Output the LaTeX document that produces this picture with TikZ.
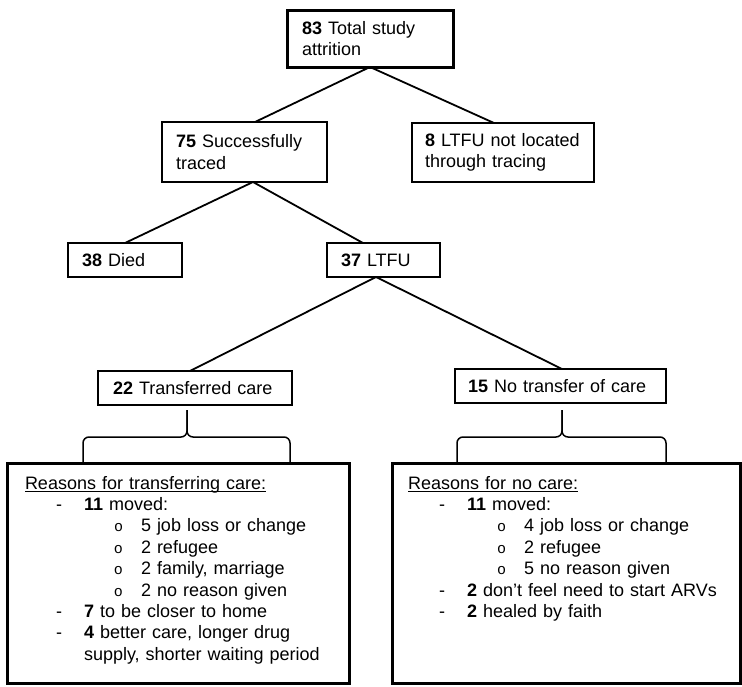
\documentclass[tikz,border=0pt]{standalone}
\usepackage{fontspec}
\setmainfont{Liberation Sans}
\newfontfamily\bulletfont{Liberation Mono}
\tikzset{box/.style={draw, line width=1.4pt, anchor=north west, align=left,
                     inner ysep=0pt, outer sep=0pt,
                     font=\fontsize{18pt}{21.4pt}\selectfont},
        bigbox/.style={box, line width=3pt, inner ysep=13pt,
                       text height=13pt, text depth=181pt},
        link/.style={line width=1.8pt},
        curly/.style={line width=1.5pt, rounded corners=6pt},
        }
\newcommand{\underhead}[1]{\setbox0=\hbox{#1}\rlap{\rule[-2.5pt]{\wd0}{1pt}}\box0}
\newcommand{\firstlevel}[1]{\hspace*{31pt}\makebox[28pt][l]{-}#1}
\newcommand{\secondlevel}[1]{\hspace*{89pt}\makebox[27pt][l]{\bulletfont\fontsize{15pt}{15pt}\selectfont o}#1}
\newcommand{\drawbrace}[3]{%
    \draw[curly] (#1,463) -- (#1,437) -- (#2,437) -- (#2,410);
    \draw[curly] (#3,463) -- (#3,437) -- (#2,437) -- (#2,410);}

\begin{document}
\begin{tikzpicture}[x=1pt, y=-1pt]
    \useasboundingbox (0,0) rectangle (742,686);

    \node[box, line width=3pt, inner xsep=15pt, text width=136pt, minimum height=57pt]
        (total) at (287,10) {\textbf{83} Total study attrition};

    \node[box, inner xsep=14pt, text width=137pt, minimum height=60pt]
        (traced) at (162,122) {\textbf{75} Successfully\\traced};
    \node[box, inner xsep=13pt, text width=156pt, minimum height=59pt]
        (lost) at (412,123) {\textbf{8} LTFU not located\\through tracing};

    \node[box, inner xsep=14pt, text width=86pt, minimum height=34pt]
        (died) at (68,243) {\textbf{38} Died};
    \node[box, inner xsep=14pt, text width=85pt, minimum height=34pt]
        (ltfu) at (327,243) {\textbf{37} LTFU};

    \node[box, inner xsep=15pt, text width=164pt, minimum height=34pt]
        (moved) at (98,371) {\textbf{22} Transferred care};
    \node[box, inner xsep=13pt, text width=185pt, minimum height=34pt]
        (stayed) at (455,369) {\textbf{15} No transfer of care};

    \node[bigbox, inner xsep=18pt, text width=306pt] (whymoved) at (7,463) {%
        \underhead{Reasons for transferring care:}\\
        \firstlevel{\textbf{11} moved:}\\
        \secondlevel{5 job loss or change}\\
        \secondlevel{2 refugee}\\
        \secondlevel{2 family, marriage}\\
        \secondlevel{2 no reason given}\\
        \firstlevel{\textbf{7} to be closer to home}\\
        \firstlevel{\textbf{4} better care, longer drug}\\
        \hspace*{59pt}supply, shorter waiting period};
    \node[bigbox, inner xsep=16pt, text width=316pt] (whystayed) at (392,463) {%
        \underhead{Reasons for no care:}\\
        \firstlevel{\textbf{11} moved:}\\
        \secondlevel{4 job loss or change}\\
        \secondlevel{2 refugee}\\
        \secondlevel{5 no reason given}\\
        \firstlevel{\textbf{2} don’t feel need to start ARVs}\\
        \firstlevel{\textbf{2} healed by faith}};

    \draw[link] (total.south) -- ([xshift=10.5pt]traced.north);
    \draw[link] (total.south) -- ([xshift=-9pt]lost.north);
    \draw[link] ([xshift=8.5pt]traced.south) -- (died.north);
    \draw[link] ([xshift=8.5pt]traced.south) -- ([xshift=-20.5pt]ltfu.north);
    \draw[link] ([xshift=-7.5pt]ltfu.south) -- ([xshift=-5pt]moved.north);
    \draw[link] ([xshift=-7.5pt]ltfu.south) -- ([xshift=1.5pt]stayed.north);

    \drawbrace{83}{187}{290}
    \drawbrace{457}{562}{666}
\end{tikzpicture}
\end{document}
